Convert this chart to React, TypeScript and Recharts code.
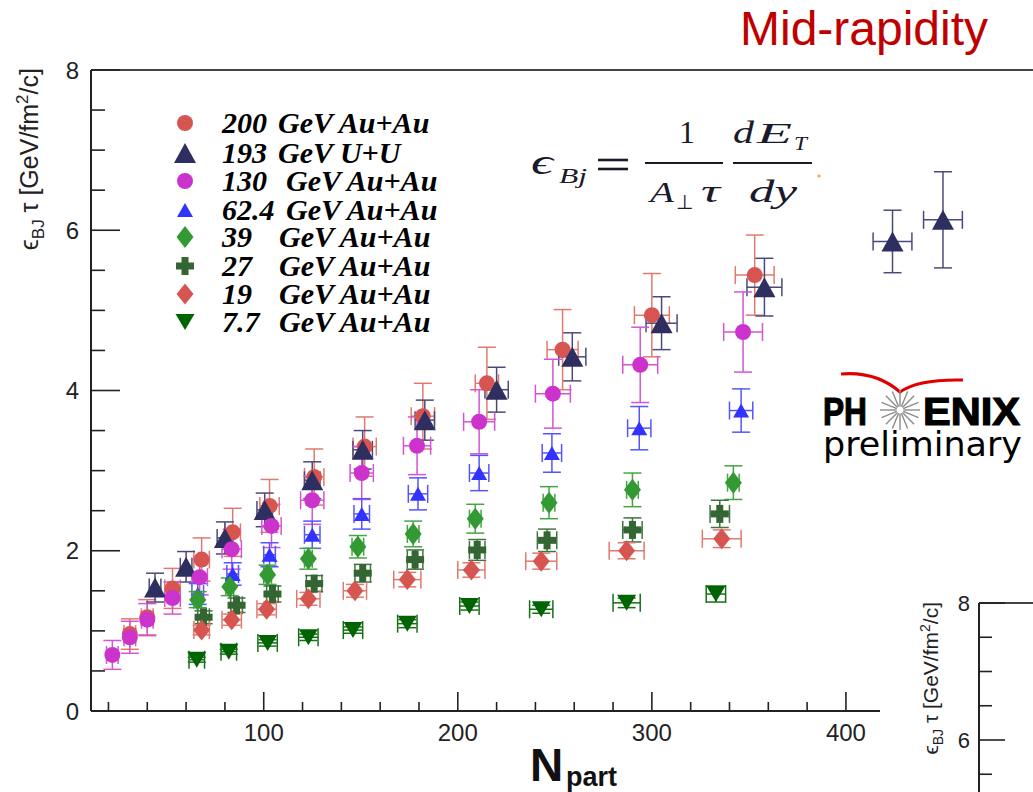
import React from "react";
import { ScatterChart, Scatter, XAxis, YAxis, ErrorBar, ReferenceLine } from "recharts";

// N_part, epsilon*tau, y error, x error for each system
const nAu200 = [31, 40, 53, 68, 84, 103, 126, 152, 182, 215, 254, 300, 353];
const epsAu200 = [0.96, 1.17, 1.53, 1.89, 2.23, 2.56, 2.92, 3.3, 3.68, 4.09, 4.51, 4.94, 5.44];
const eyAu200 = [0.19, 0.22, 0.25, 0.27, 0.3, 0.33, 0.35, 0.37, 0.41, 0.45, 0.5, 0.52, 0.5];
const exAu200 = [3, 3, 4, 4, 4, 5, 5, 6, 6, 6, 8, 9, 10];

const nUU193 = [44, 60, 80, 100.5, 125, 151, 183, 220, 259, 305, 358, 424, 450];
const epsUU193 = [1.54, 1.8, 2.16, 2.51, 2.88, 3.26, 3.63, 4.01, 4.42, 4.84, 5.29, 5.86, 6.13];
const eyUU193 = [0.18, 0.19, 0.2, 0.21, 0.23, 0.24, 0.25, 0.28, 0.3, 0.33, 0.36, 0.39, 0.6];
const exUU193 = [3, 3, 4, 4, 4, 5, 5, 6, 7, 8, 9, 10, 10];

const nAu130 = [22, 31, 40, 53, 67, 83.5, 104, 125, 150.5, 179, 211, 249, 294, 347];
const epsAu130 = [0.7, 0.92, 1.14, 1.41, 1.67, 2.02, 2.31, 2.63, 2.97, 3.31, 3.61, 3.96, 4.32, 4.73];
const eyAu130 = [0.18, 0.2, 0.2, 0.2, 0.22, 0.25, 0.27, 0.3, 0.33, 0.36, 0.4, 0.43, 0.47, 0.5];
const exAu130 = [3, 3, 3, 4, 4, 5, 5, 6, 6, 7, 8, 9, 9, 10];

const nAu62 = [66, 84, 103, 125, 150.5, 179.5, 211, 248.5, 293.5, 346];
const epsAu62 = [1.46, 1.71, 1.95, 2.2, 2.46, 2.71, 2.97, 3.22, 3.53, 3.75];
const eyAu62 = [0.13, 0.14, 0.15, 0.17, 0.19, 0.2, 0.22, 0.24, 0.27, 0.27];
const exAu62 = [3, 3, 3, 4, 4, 5, 5, 5, 6, 6];

const nAu39 = [66, 82.5, 102, 123, 148.5, 177, 209, 247, 290, 342];
const epsAu39 = [1.39, 1.55, 1.7, 1.9, 2.05, 2.21, 2.4, 2.6, 2.76, 2.85];
const eyAu39 = [0.1, 0.11, 0.12, 0.13, 0.14, 0.16, 0.18, 0.2, 0.21, 0.21];
const exAu39 = [2, 2, 2, 2, 3, 3, 3, 3, 3, 3];

const nAu27 = [69, 86, 104.5, 126, 151, 178, 210, 246, 290, 335];
const epsAu27 = [1.17, 1.32, 1.46, 1.59, 1.72, 1.89, 2.01, 2.13, 2.26, 2.46];
const eyAu27 = [0.08, 0.09, 0.1, 0.1, 0.11, 0.12, 0.13, 0.14, 0.15, 0.17];
const exAu27 = [3, 3, 3, 4, 4, 4, 4, 5, 5, 5];

const nAu19 = [68, 83.5, 101.5, 123, 147, 174, 207, 243, 287, 336];
const epsAu19 = [1.01, 1.14, 1.27, 1.4, 1.5, 1.64, 1.76, 1.87, 2.0, 2.15];
const eyAu19 = [0.06, 0.07, 0.07, 0.08, 0.08, 0.09, 0.09, 0.1, 0.1, 0.11];
const exAu19 = [4, 5, 5, 6, 6, 7, 7, 8, 9, 10];

const nAu7 = [65.5, 82, 102, 123, 146, 174, 206, 243, 287, 333];
const epsAu7 = [0.64, 0.74, 0.85, 0.92, 1.01, 1.09, 1.31, 1.27, 1.35, 1.46];
const eyAu7 = [0.03, 0.03, 0.04, 0.04, 0.04, 0.05, 0.05, 0.05, 0.06, 0.1];
const exAu7 = [4, 4, 5, 5, 5, 5, 5, 6, 7, 5];

const xTicks = [20, 40, 60, 80, 100, 120, 140, 160, 180, 200, 220, 240, 260, 280, 300, 320, 340, 360, 380, 400, 420, 440, 460, 480];
const yTicks = [0, 0.5, 1, 1.5, 2, 2.5, 3, 3.5, 4, 4.5, 5, 5.5, 6, 6.5, 7, 7.5, 8];
const insetTicks = [8, 7.5, 7, 6.5, 6, 5.5];

const X_DOMAIN: [number, number] = [11, 500];
const Y_DOMAIN: [number, number] = [0, 8];
// pixel sizes of one unit on each axis (plot box 949 x 641 px)
const PX_PER_N = 949 / (X_DOMAIN[1] - X_DOMAIN[0]);
const PX_PER_EPS = 641 / (Y_DOMAIN[1] - Y_DOMAIN[0]);

const SANS = "Liberation Sans, Arial, sans-serif";
const SERIF = "Liberation Serif, Times New Roman, serif";
const AXIS = "#222";

function build(n: number[], e: number[], ey: number[], ex: number[]) {
  return n.map((v, i) => ({ n: v, e: e[i], ey: ey[i], ex: ex[i] }));
}

// marker shapes (ROOT style, filled, no outline)
const dot = (r: number) => (cx: number, cy: number, fill: string) => <circle cx={cx} cy={cy} r={r} fill={fill} />;
const triUp = (w: number, h: number) => (cx: number, cy: number, fill: string) => (
  <polygon points={`${cx},${cy - h / 2} ${cx - w / 2},${cy + h / 2} ${cx + w / 2},${cy + h / 2}`} fill={fill} />
);
const triDown = (w: number, h: number) => (cx: number, cy: number, fill: string) => (
  <polygon points={`${cx - w / 2},${cy - h / 2} ${cx + w / 2},${cy - h / 2} ${cx},${cy + h / 2}`} fill={fill} />
);
const diamond = (w: number, h: number) => (cx: number, cy: number, fill: string) => (
  <polygon points={`${cx},${cy - h / 2} ${cx + w / 2},${cy} ${cx},${cy + h / 2} ${cx - w / 2},${cy}`} fill={fill} />
);
const cross = (s: number, t: number) => (cx: number, cy: number, fill: string) => (
  <g fill={fill}>
    <rect x={cx - s / 2} y={cy - t / 2} width={s} height={t} />
    <rect x={cx - t / 2} y={cy - s / 2} width={t} height={s} />
  </g>
);

const series = [
  { key: "au200", num: "200", rest: "GeV Au+Au", restX: 278, color: "#d65550", err: "#e07a70", marker: dot(8), data: build(nAu200, epsAu200, eyAu200, exAu200) },
  { key: "uu193", num: "193", rest: "GeV U+U", restX: 278, color: "#2e2e60", err: "#4a4a7a", marker: triUp(22, 20), data: build(nUU193, epsUU193, eyUU193, exUU193) },
  { key: "au130", num: "130", rest: "GeV Au+Au", restX: 286, color: "#cc33cc", err: "#d455d4", marker: dot(8), data: build(nAu130, epsAu130, eyAu130, exAu130) },
  { key: "au62", num: "62.4", rest: "GeV Au+Au", restX: 286, color: "#3333ff", err: "#5555ff", marker: triUp(16, 14), data: build(nAu62, epsAu62, eyAu62, exAu62) },
  { key: "au39", num: "39", rest: "GeV Au+Au", restX: 279, color: "#339933", err: "#44a544", marker: diamond(17, 22), data: build(nAu39, epsAu39, eyAu39, exAu39) },
  { key: "au27", num: "27", rest: "GeV Au+Au", restX: 279, color: "#336633", err: "#3f753f", marker: cross(18, 7), data: build(nAu27, epsAu27, eyAu27, exAu27) },
  { key: "au19", num: "19", rest: "GeV Au+Au", restX: 279, color: "#d65550", err: "#e07a70", marker: diamond(17, 21), data: build(nAu19, epsAu19, eyAu19, exAu19) },
  { key: "au7", num: "7.7", rest: "GeV Au+Au", restX: 279, color: "#006400", err: "#157015", marker: triDown(19, 16), data: build(nAu7, epsAu7, eyAu7, exAu7) },
];

const legendRows = [123, 153, 181, 210, 237, 266, 294, 322];

const XTickLabel = (props: any) => {
  const { x, y, payload } = props;
  const v = payload.value;
  if (v % 100 !== 0) return <g />;
  return (
    <text x={x} y={y + 30} textAnchor="middle" fontSize={24} fontFamily={SANS} fill={AXIS}>
      {v}
    </text>
  );
};

const YTickLabel = (props: any) => {
  const { x, y, payload } = props;
  const v = payload.value;
  if (v % 2 !== 0) return <g />;
  return (
    <text x={x - 12} y={y + 8.6} textAnchor="end" fontSize={24} fontFamily={SANS} fill={AXIS}>
      {v}
    </text>
  );
};

function YLabel({ x, y, size, sub }: { x: number; y: number; size: number; sub: number }) {
  return (
    <text transform={`translate(${x},${y}) rotate(-90)`} textAnchor="end" fontSize={size} fontFamily={SANS} fill={AXIS}>
      <tspan>ϵ</tspan>
      <tspan fontSize={sub} dy={size * 0.25}>BJ</tspan>
      <tspan dy={-size * 0.25}>{"  τ  [GeV/fm"}</tspan>
      <tspan fontSize={sub} dy={-size * 0.4}>2</tspan>
      <tspan dy={size * 0.4}>/c]</tspan>
    </text>
  );
}

function Phenix() {
  const rays = Array.from({ length: 16 }, (_, i) => (i * Math.PI) / 8);
  return (
    <g>
      <path d="M841 374 Q876 371 900 392 Q918 379 963 380" fill="none" stroke="#e00000" strokeWidth={3} />
      <text x={823} y={425} fontSize={39} fontWeight="bold" fontFamily={SANS} fill="#000" stroke="#000" strokeWidth={1.2} textLength={44} lengthAdjust="spacingAndGlyphs">
        PH
      </text>
      {rays.map((a, i) => (
        <line key={i} x1={900 + 3.5 * Math.cos(a)} y1={410 + 3.5 * Math.sin(a)} x2={900 + 20 * Math.cos(a)} y2={410 + 20 * Math.sin(a)} stroke="#8c8c8c" strokeWidth={1.4} />
      ))}
      <text x={923} y={425} fontSize={39} fontWeight="bold" fontFamily={SANS} fill="#000" stroke="#000" strokeWidth={1.2} textLength={97} lengthAdjust="spacingAndGlyphs">
        ENIX
      </text>
      <text x={823} y={456} fontSize={33} fontFamily="DejaVu Sans, sans-serif" fill="#000" textLength={199} lengthAdjust="spacingAndGlyphs">
        preliminary
      </text>
    </g>
  );
}

function Formula() {
  const fc = "#1a1a2a";
  const it = { fontStyle: "italic" as const, lengthAdjust: "spacingAndGlyphs" as const };
  return (
    <g fill={fc} fontFamily={SERIF}>
      <text x={531} y={174} fontSize={36} {...it} textLength={22}>ϵ</text>
      <text x={559} y={183} fontSize={21} {...it} textLength={28}>Bj</text>
      <line x1={598} x2={628} y1={160} y2={160} stroke={fc} strokeWidth={2.6} />
      <line x1={598} x2={628} y1={169} y2={169} stroke={fc} strokeWidth={2.6} />
      <line x1={645} x2={723} y1={163} y2={163} stroke={fc} strokeWidth={2.2} />
      <text x={687} y={143} fontSize={32} textAnchor="middle">1</text>
      <text x={650} y={202} fontSize={30} {...it} textLength={24}>A</text>
      <text x={676} y={209} fontSize={20}>⊥</text>
      <text x={701} y={202} fontSize={32} {...it} textLength={19}>τ</text>
      <line x1={733} x2={812} y1={163} y2={163} stroke={fc} strokeWidth={2.2} />
      <text x={733} y={143} fontSize={32} {...it} textLength={21}>d</text>
      <text x={757} y={143} fontSize={30} {...it} textLength={35}>E</text>
      <text x={794} y={150} fontSize={19} {...it} textLength={13}>T</text>
      <text x={749} y={202} fontSize={32} {...it} textLength={48}>dy</text>
      <circle cx={819} cy={176} r={1.5} fill="#f0a040" />
    </g>
  );
}

function Legend() {
  return (
    <g>
      {series.map((s, i) => {
        const cy = legendRows[i];
        return (
          <g key={s.key}>
            {s.marker(185, cy, s.color)}
            <text x={222} y={cy + 10} fontSize={30} fontWeight="bold" fontStyle="italic" fontFamily={SERIF} fill="#000">
              <tspan>{s.num}</tspan>
              <tspan x={s.restX}>{s.rest}</tspan>
            </text>
          </g>
        );
      })}
    </g>
  );
}

function Inset() {
  // partial second panel at the bottom right edge of the slide
  const top = 20;
  const unit = 68.5;
  return (
    <svg width={153} height={209} style={{ display: "block" }}>
      <YLabel x={58} y={19} size={21} sub={14} />
      <line x1={99} x2={99} y1={top} y2={209} stroke={AXIS} strokeWidth={2} />
      <line x1={99} x2={153} y1={top} y2={top} stroke="#444" strokeWidth={2} />
      {insetTicks.map((v) => {
        const y = top + (8 - v) * unit;
        const major = v % 2 === 0;
        return (
          <g key={v}>
            <line x1={99} x2={99 + (major ? 26 : 13)} y1={y} y2={y} stroke={AXIS} strokeWidth={1.6} />
            {major ? (
              <text x={90} y={y + 8} textAnchor="end" fontSize={22} fontFamily={SANS} fill={AXIS}>
                {v}
              </text>
            ) : null}
          </g>
        );
      })}
    </svg>
  );
}

export default function App() {
  return (
    <div style={{ position: "absolute", left: 0, top: 0, width: 1033, height: 792, overflow: "hidden", background: "#fff" }}>
      <ScatterChart width={1050} height={792} margin={{ top: 70, right: 10, bottom: 31, left: 31 }}>
        <XAxis
          type="number"
          dataKey="n"
          domain={X_DOMAIN}
          ticks={xTicks}
          interval={0}
          allowDataOverflow
          height={50}
          tickSize={0}
          tickMargin={0}
          tickLine={false}
          axisLine={{ stroke: AXIS, strokeWidth: 2 }}
          tick={(p: any) => <XTickLabel {...p} />}
        />
        <YAxis
          type="number"
          dataKey="e"
          domain={Y_DOMAIN}
          ticks={yTicks}
          interval={0}
          allowDataOverflow
          width={60}
          tickSize={0}
          tickMargin={0}
          tickLine={false}
          axisLine={{ stroke: AXIS, strokeWidth: 2 }}
          tick={(p: any) => <YTickLabel {...p} />}
        />
        <ReferenceLine y={8} stroke="#444" strokeWidth={2} />
        {/* ROOT-style inward tick marks */}
        {xTicks.map((v) => (
          <ReferenceLine
            key={`xt${v}`}
            segment={[
              { x: v, y: 0 },
              { x: v, y: (v % 100 === 0 ? 19 : 9) / PX_PER_EPS },
            ]}
            stroke={AXIS}
            strokeWidth={1.6}
          />
        ))}
        {yTicks.map((v) => (
          <ReferenceLine
            key={`yt${v}`}
            segment={[
              { x: X_DOMAIN[0], y: v },
              { x: X_DOMAIN[0] + (v % 2 === 0 ? 29 : 14) / PX_PER_N, y: v },
            ]}
            stroke={AXIS}
            strokeWidth={1.6}
          />
        ))}
        {series.map((s) => (
          <Scatter
            key={s.key}
            name={s.key}
            data={s.data}
            isAnimationActive={false}
            shape={(p: any) => s.marker(p.cx, p.cy, s.color)}
          >
            <ErrorBar dataKey="ey" direction="y" width={9} stroke={s.err} strokeWidth={1.5} isAnimationActive={false} />
            <ErrorBar dataKey="ex" direction="x" width={9} stroke={s.err} strokeWidth={1.5} isAnimationActive={false} />
          </Scatter>
        ))}
        <YLabel x={38} y={68} size={25} sub={17} />
        <text x={740} y={45} fontSize={48} fontFamily={SANS} fill="#c00000">
          Mid-rapidity
        </text>
        <Legend />
        <Formula />
        <Phenix />
        <text x={530} y={781} fontSize={46} fontWeight="bold" fontFamily={SANS} fill="#111">
          N
        </text>
        <text x={566} y={786} fontSize={27} fontWeight="bold" fontFamily={SANS} fill="#111">
          part
        </text>
      </ScatterChart>

      <div style={{ position: "absolute", left: 880, top: 583, width: 153, height: 209, overflow: "hidden", background: "#fff" }}>
        <Inset />
      </div>
    </div>
  );
}
